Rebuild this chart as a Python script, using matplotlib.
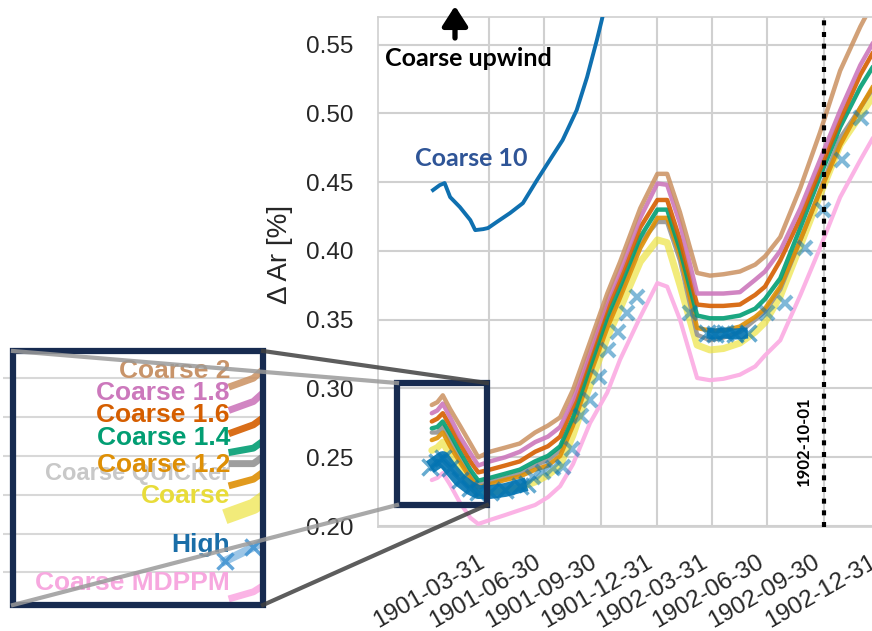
import numpy as np
import matplotlib
matplotlib.use("Agg")
import matplotlib.pyplot as plt
import matplotlib.dates as mdates
from matplotlib.patches import Rectangle
from matplotlib.lines import Line2D

plt.rcParams['font.family'] = ['Liberation Sans', 'DejaVu Sans']

# ---- data ----
dates = ['1900-12-28', '1901-01-06', '1901-01-15', '1901-01-27', '1901-02-12', '1901-03-01',
         '1901-03-14', '1901-04-02', '1901-04-27', '1901-05-21', '1901-06-15', '1901-07-06',
         '1901-07-26', '1901-08-16', '1901-09-13', '1901-10-11', '1901-11-01', '1901-12-04',
         '1902-01-01', '1902-01-17', '1902-02-07', '1902-03-07', '1902-03-28', '1902-04-19',
         '1902-05-16', '1902-06-10', '1902-06-26', '1902-07-21', '1902-08-23', '1902-09-24',
         '1902-10-27', '1902-11-29', '1902-12-31']

coarse_2 = [0.288, 0.290, 0.295, 0.285, 0.273, 0.260, 0.250, 0.254, 0.257, 0.260, 0.268, 0.273,
            0.279, 0.299, 0.334, 0.369, 0.392, 0.431, 0.456, 0.456, 0.428, 0.384, 0.382, 0.383,
            0.385, 0.390, 0.396, 0.410, 0.446, 0.486, 0.531, 0.563, 0.590]
coarse_18 = [0.282, 0.284, 0.289, 0.279, 0.265, 0.253, 0.244, 0.247, 0.250, 0.254, 0.261, 0.265,
             0.272, 0.292, 0.328, 0.364, 0.386, 0.424, 0.449, 0.448, 0.420, 0.369, 0.369, 0.369,
             0.370, 0.379, 0.385, 0.400, 0.431, 0.466, 0.502, 0.535, 0.560]
coarse_16 = [0.276, 0.278, 0.282, 0.273, 0.260, 0.247, 0.239, 0.241, 0.244, 0.247, 0.254, 0.258,
             0.265, 0.287, 0.323, 0.359, 0.380, 0.417, 0.437, 0.437, 0.408, 0.361, 0.360, 0.360,
             0.361, 0.368, 0.374, 0.393, 0.424, 0.459, 0.495, 0.528, 0.553]
coarse_14 = [0.271, 0.272, 0.276, 0.267, 0.254, 0.241, 0.233, 0.235, 0.238, 0.241, 0.247, 0.251,
             0.258, 0.279, 0.316, 0.352, 0.374, 0.410, 0.430, 0.430, 0.401, 0.353, 0.351, 0.351,
             0.353, 0.358, 0.365, 0.380, 0.417, 0.454, 0.490, 0.519, 0.542]
coarse_12 = [0.2625, 0.264, 0.268, 0.258, 0.2465, 0.235, 0.228, 0.2305, 0.2335, 0.236, 0.241, 0.244,
             0.251, 0.273, 0.310, 0.344, 0.366, 0.402, 0.424, 0.424, 0.397, 0.344, 0.342, 0.342,
             0.345, 0.352, 0.358, 0.374, 0.408, 0.443, 0.477, 0.504, 0.528]
coarse_quicker = [0.268, 0.268, 0.272, 0.2625, 0.249, 0.237, 0.230, 0.232, 0.235, 0.238, 0.244, 0.248,
                  0.255, 0.277, 0.312, 0.348, 0.369, 0.406, 0.421, 0.421, 0.393, 0.339, 0.335, 0.337,
                  0.341, 0.350, 0.356, 0.372, 0.408, 0.444, 0.482, 0.504, 0.526]
coarse = [0.255, 0.257, 0.261, 0.2515, 0.241, 0.230, 0.2225, 0.2245, 0.226, 0.228, 0.232, 0.237,
          0.244, 0.266, 0.3025, 0.337, 0.358, 0.392, 0.408, 0.406, 0.375, 0.3315, 0.328, 0.329,
          0.333, 0.341, 0.348, 0.367, 0.404, 0.4405, 0.477, 0.4985, 0.520]
coarse_mdppm = [0.2334, 0.235, 0.2385, 0.230, 0.217, 0.206, 0.2015, 0.2044, 0.208, 0.2116, 0.2153, 0.221,
                0.229, 0.245, 0.275, 0.297, 0.321, 0.352, 0.3766, 0.374, 0.350, 0.3076, 0.306, 0.307,
                0.310, 0.316, 0.324, 0.335, 0.368, 0.402, 0.439, 0.466, 0.491]

high_dense1_dates = ['1900-12-25', '1901-01-06', '1901-01-15', '1901-01-27', '1901-02-12', '1901-03-01',
                     '1901-03-14', '1901-04-02', '1901-04-27', '1901-05-21', '1901-06-01']
high_dense1 = [0.2429, 0.2465, 0.2494, 0.242, 0.2334, 0.2276, 0.2247, 0.2247, 0.2262, 0.2291, 0.2305]
high_dense2_dates = ['1902-03-23', '1902-04-05', '1902-04-21', '1902-05-08', '1902-05-29']
high_dense2 = [0.3403, 0.3396, 0.3403, 0.3396, 0.3403]
high_dates = ['1901-06-11', '1901-06-28', '1901-07-14', '1901-07-30', '1901-08-14', '1901-08-29',
              '1901-09-13', '1901-09-28', '1901-10-12', '1901-10-29', '1901-11-12', '1901-11-28',
              '1902-02-23', '1902-06-29', '1902-07-29', '1902-08-30', '1902-09-29', '1902-10-30',
              '1902-11-30']
high = [0.2356, 0.2392, 0.2422, 0.2429, 0.256, 0.280, 0.2916, 0.3083, 0.3279, 0.341, 0.3548, 0.3664,
        0.3548, 0.3548, 0.3621, 0.402, 0.4297, 0.466, 0.4965]

coarse10_dates = ['1900-12-30', '1901-01-10', '1901-01-18', '1901-01-27', '1901-02-12', '1901-03-01',
                  '1901-03-09', '1901-03-22', '1901-03-30', '1901-04-13', '1901-05-05', '1901-05-26',
                  '1901-06-18', '1901-07-09', '1901-07-30', '1901-08-22', '1901-09-08', '1901-09-24',
                  '1901-10-02', '1901-10-19']
coarse10 = [0.4442, 0.4478, 0.4493, 0.4391, 0.4318, 0.4224, 0.4151, 0.4158, 0.4166, 0.4209, 0.4275,
            0.4347, 0.4514, 0.466, 0.4805, 0.5023, 0.5263, 0.5532, 0.5677, 0.60]

tick_dates = ['1901-03-31', '1901-06-30', '1901-09-30', '1901-12-31',
              '1902-03-31', '1902-06-30', '1902-09-30', '1902-12-31']

x = np.array(dates, dtype='datetime64[D]')
navy = '#172b50'

# name, values, colour, width, alpha  (drawn bottom to top)
lines = [
    ('Coarse MDPPM', coarse_mdppm, '#fbafe4', 3.0, 0.95),
    ('Coarse', coarse, '#ece133', 5.0, 0.65),
    ('Coarse QUICKer', coarse_quicker, '#949494', 3.2, 0.9),
    ('Coarse 1.2', coarse_12, '#de8f05', 3.2, 0.9),
    ('Coarse 1.4', coarse_14, '#029e73', 3.2, 0.9),
    ('Coarse 1.6', coarse_16, '#d55e00', 3.2, 0.9),
    ('Coarse 1.8', coarse_18, '#cc78bc', 3.2, 0.9),
    ('Coarse 2', coarse_2, '#ca9161', 3.2, 0.85),
]

W, H = 872, 631
def box(x0, y0, x1, y1):
    return [x0 / W, 1 - y1 / H, (x1 - x0) / W, (y1 - y0) / H]

fig = plt.figure(figsize=(W / 100, H / 100), dpi=100)
ax = fig.add_axes(box(378, 17, 886, 527))

for name, vals, col, lw, a in lines:
    ax.plot(x, vals, color=col, lw=lw, alpha=a, solid_capstyle='round')

# High: dense parts look solid, the rest are single crosses
for dd, vv, w in [(high_dense1_dates, high_dense1, 10), (high_dense2_dates, high_dense2, 8)]:
    xd = np.array(dd, dtype='datetime64[D]')
    ax.plot(xd, vv, color='#0173b2', lw=w, alpha=0.9, solid_capstyle='butt', zorder=3)
    ax.plot(xd, vv, ls='none', marker='x', ms=11, mew=2.5, color='#0173b2', alpha=0.6, zorder=3)
ax.plot(np.array(high_dates, dtype='datetime64[D]'), high, ls='none', marker='x', ms=10, mew=3,
        color='#0173b2', alpha=0.5, zorder=3)

ax.plot(np.array(coarse10_dates, dtype='datetime64[D]'), coarse10, color='#0f70b0', lw=2.8, zorder=4)

ax.axvline(np.datetime64('1902-10-01'), color='black', lw=3, ls=(0, (1.2, 1.6)), zorder=6)
ax.text(np.datetime64('1902-08-29'), 0.262, '1902-10-01', rotation=90, ha='center', va='center',
        fontsize=12, fontweight='bold', family=['Lato', 'DejaVu Sans'])

x0 = mdates.date2num(np.datetime64('1900-11-01'))
x1 = mdates.date2num(np.datetime64('1901-03-28'))
ax.add_patch(Rectangle((x0, 0.2153), x1 - x0, 0.3039 - 0.2153, fill=False, ec=navy, lw=4.5, zorder=7))

ax.set_xlim(np.datetime64('1900-10-01'), np.datetime64('1903-01-10'))
ax.set_ylim(0.1993, 0.570)
ax.set_xticks(np.array(tick_dates, dtype='datetime64[D]'))
ax.set_xticklabels(tick_dates, rotation=30, ha='right')
yt = np.arange(0.20, 0.551, 0.05)
ax.set_yticks(yt)
ax.set_yticklabels(['%.2f' % v for v in yt])
ax.tick_params(length=0, labelsize=17.5, colors='#262626')
ax.tick_params(axis='y', pad=18)
ax.tick_params(axis='x', pad=17)
ax.grid(color='#d0d0d0', lw=1.5)
ax.set_axisbelow(True)
for sp in ax.spines.values():
    sp.set_color('#d0d0d0')
    sp.set_linewidth(1.2)
ax.set_ylabel('Δ Ar [%]', fontsize=20, color='#262626')
ax.yaxis.set_label_coords(-0.168, 0.535)

ax.annotate('', xy=(455, H - 6), xycoords='figure pixels', xytext=(455, H - 38),
            arrowprops=dict(arrowstyle='-|>,head_length=0.7,head_width=0.45', lw=3.8,
                            color='black', mutation_scale=17, shrinkA=0, shrinkB=0),
            annotation_clip=False)
fig.text(385 / W, 1 - 58 / H, 'Coarse upwind', ha='left', va='center', fontsize=18,
         fontweight='bold', family=['Lato', 'DejaVu Sans'])
fig.text(415 / W, 1 - 159 / H, 'Coarse 10', ha='left', va='center', fontsize=18,
         fontweight='bold', color='#2f5597', family=['Lato', 'DejaVu Sans'])

# ---- zoomed inset on the left ----
axins = fig.add_axes(box(3, 351, 263, 605))
for name, vals, col, lw, a in lines:
    w = 11 if name == 'Coarse' else 5
    axins.plot(x, vals, color=col, lw=w, alpha=a)
xd = np.array(high_dense1_dates, dtype='datetime64[D]')
axins.plot(xd, high_dense1, color='#3a8fd0', lw=6, alpha=0.5)
axins.plot(xd, high_dense1, ls='none', marker='x', ms=12, mew=2.5, color='#3a8fd0', alpha=0.8)
axins.set_xlim(np.datetime64('1900-09-23'), np.datetime64('1901-01-10'))
axins.set_ylim(0.2316, 0.297)
axins.set_yticks(np.arange(0.24, 0.295, 0.01))
axins.set_xticks([])
axins.tick_params(length=0, labelleft=False)
axins.grid(axis='y', color='#d8d8d8', lw=1.5)
axins.set_axisbelow(True)
for sp in axins.spines.values():
    sp.set_visible(False)

labels = [('Coarse QUICKer', '#c8c8c8', 480, 17),
          ('Coarse 2', '#c8946a', 378, 19),
          ('Coarse 1.8', '#cc78bc', 400, 19),
          ('Coarse 1.6', '#d55e00', 422, 19),
          ('Coarse 1.4', '#029e73', 445, 19),
          ('Coarse 1.2', '#de8f05', 472, 19),
          ('Coarse', '#e8dc3a', 503, 19),
          ('High', '#1a6ea8', 552, 19),
          ('Coarse MDPPM', '#f7a8df', 590, 19)]
for txt, col, yb, fs in labels:
    fig.text(230 / W, 1 - yb / H, txt, ha='right', va='baseline', fontsize=fs,
             fontweight='bold', color=col, zorder=3)

fig.add_artist(Rectangle((13 / W, 1 - 605 / H), 250 / W, 254 / H, transform=fig.transFigure,
                         fill=False, ec=navy, lw=4.5, zorder=5))
for (xa, ya), (xb, yb), col in [((13, 351), (397, 383), '#9a9a9a'),
                                ((13, 605), (397, 505), '#9a9a9a'),
                                ((263, 351), (487, 383), '#404040'),
                                ((263, 605), (487, 505), '#404040')]:
    fig.add_artist(Line2D([xa / W, xb / W], [1 - ya / H, 1 - yb / H], transform=fig.transFigure,
                          color=col, lw=3, alpha=0.85, zorder=6))

fig.savefig('out.png', dpi=100)
